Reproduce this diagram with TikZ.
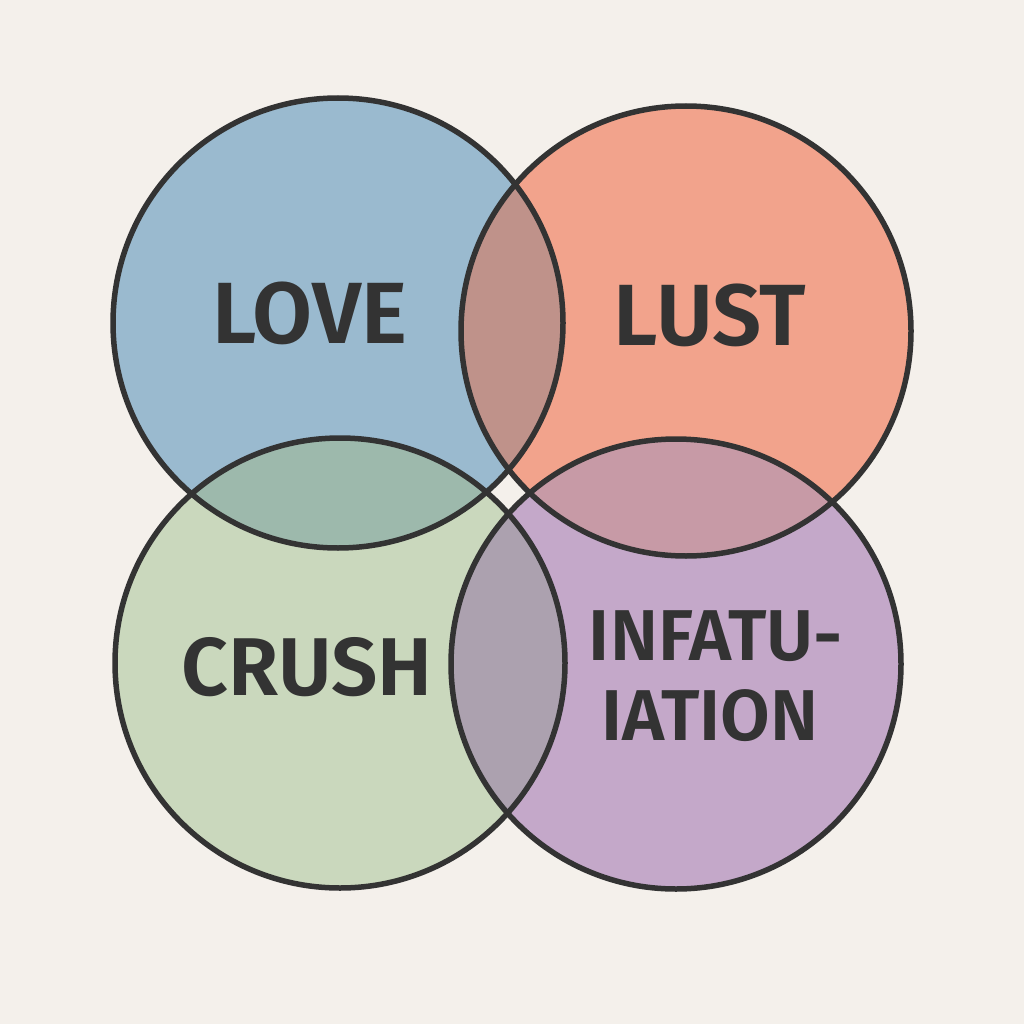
\documentclass[tikz,border=0pt]{standalone}
\usepackage{fontspec}
\setmainfont{Fira Sans}[BoldFont={Fira Sans SemiBold}]
\definecolor{bg}{HTML}{F4F0EB}
\definecolor{cblue}{HTML}{9ABACF}
\definecolor{csalmon}{HTML}{F2A38C}
\definecolor{cgreen}{HTML}{CAD8BD}
\definecolor{cpurple}{HTML}{C4A8C9}
\definecolor{obs}{HTML}{BF928A}
\definecolor{obg}{HTML}{9DB9AC}
\definecolor{osp}{HTML}{C79AA6}
\definecolor{ogp}{HTML}{ACA1AF}
\definecolor{ink}{HTML}{333333}
\tikzset{
  ring/.style={draw=ink,line width=5.5pt},
  lbl/.style={text=ink,font=\bfseries\fontsize{87}{87}\selectfont,anchor=base,inner sep=0pt},
  lblc/.style={text=ink,font=\bfseries\fontsize{82}{82}\selectfont,anchor=base,inner sep=0pt},
  lbls/.style={text=ink,font=\bfseries\fontsize{72}{72}\selectfont,anchor=base,inner sep=0pt}
}
\begin{document}
\begin{tikzpicture}[x=1pt,y=-1pt]
\fill[bg] (0,0) rectangle (1024,1024);
\useasboundingbox (0,0) rectangle (1024,1024);
\coordinate (cb) at (338,323);
\coordinate (cs) at (686,331);
\coordinate (cg) at (340,663);
\coordinate (cp) at (676,664);
\def\R{225}
% fills
\fill[cblue] (cb) circle (\R);
\fill[csalmon] (cs) circle (\R);
\fill[cgreen] (cg) circle (\R);
\fill[cpurple] (cp) circle (\R);
% overlaps
\begin{scope}\clip (cb) circle (\R); \fill[obs] (cs) circle (\R);\end{scope}
\begin{scope}\clip (cb) circle (\R); \fill[obg] (cg) circle (\R);\end{scope}
\begin{scope}\clip (cs) circle (\R); \fill[osp] (cp) circle (\R);\end{scope}
\begin{scope}\clip (cg) circle (\R); \fill[ogp] (cp) circle (\R);\end{scope}
% outlines
\draw[ring] (cb) circle (\R);
\draw[ring] (cs) circle (\R);
\draw[ring] (cg) circle (\R);
\draw[ring] (cp) circle (\R);
% labels
\node[lbl] (love) at (310,343) {LOVE};
\node[lbl] (lust) at (710,345) {LUST};
\node[lblc] (crush) at (307,695) {CRUSH};
\node[lbls] (inf1) at (716,660) {INFATU-};
\node[lbls] (inf2) at (710,740) {IATION};
\end{tikzpicture}
\end{document}
